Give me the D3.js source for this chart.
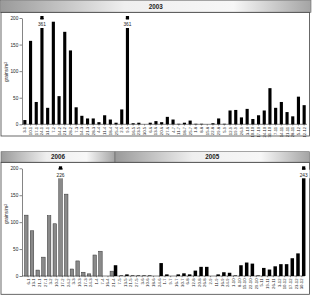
<!DOCTYPE html>
<html>
<head>
<meta charset="utf-8">
<script src="https://cdn.jsdelivr.net/npm/d3@7"></script>
<style>
  body { margin: 0; background: #fff; }
  text { font-family: "Liberation Sans", Arial, sans-serif; fill: #222; }
</style>
</head>
<body>
<div id="chart"></div>
<script>
// 2003 weekly samples
var topLabels = ["3-1","10-1","17-1","24-1","31-1","7-2","14-2","21-2","28-2","7-3","14-3","21-3","28-3",
  "4-4","11-4","18-4","25-4","2-5","9-5","16-5","23-5","30-5","6-6","13-6","20-6","27-6","4-7","11-7",
  "18-7","25-7","1-8","8-8","15-8","22-8","29-8","5-9","12-9","19-9","26-9","3-10","10-10","17-10",
  "24-10","31-10","7-11","14-11","21-11","28-11","5-12","12-12"];
var topValues = [8,157,42,361,31,193,53,174,139,32,16,11,11,4,17,9,3,28,361,2,3,0,3,6,4,14,9,1,3,7,
  1,1,0,2,11,1,26,27,13,29,10,17,26,68,31,42,23,15,52,36];

// 2006 (grey) and 2005 (black) on one axis
var bottomLabels = ["6-1","13-1","21-1","27-1","3-2","10-2","17-2","24-2","3-3","10-3","17-3","24-3",
  "1-4","7-4","16-4","21-4","7-5","13-5","21-5","27-5","3-6","10-6","18-6","24-6","1-7","9-7","16-7",
  "30-7","6-8","12-8","20-8","26-8","2-9","11-9","16-9","24-9","1-10","8-10","15-10","22-10","29-10",
  "5-11","19-11","26-11","3-12","10-12","17-12","23-12","30-12"];
var values2006 = [113,84,11,35,112,97,226,152,13,28,7,4,39,46,0,9];
var values2005 = [20,1,3,1,1,1,1,0,24,3,0,3,5,3,10,17,17,0,3,7,6,1,20,25,23,1,15,12,18,22,22,33,42,243];
var start2005 = 15;   // first category index with a 2005 value

var yTicks = [0,50,100,150,200];
var yMax = 200;

var svg = d3.select("#chart").append("svg")
    .attr("width", 312)
    .attr("height", 296);

var defs = svg.append("defs");
var grad = defs.append("linearGradient").attr("id", "hdr");
grad.append("stop").attr("offset", "0%").attr("stop-color", "#9a9a9a");
grad.append("stop").attr("offset", "40%").attr("stop-color", "#efefef");
grad.append("stop").attr("offset", "75%").attr("stop-color", "#f7f7f7");
grad.append("stop").attr("offset", "100%").attr("stop-color", "#a4a4a4");

function header(x0, x1, y0, y1, label) {
    svg.append("rect")
        .attr("x", x0).attr("y", y0)
        .attr("width", x1 - x0).attr("height", y1 - y0)
        .attr("fill", "url(#hdr)")
        .attr("stroke", "#6a6a6a")
        .attr("stroke-width", 0.6);
    svg.append("text")
        .attr("x", (x0 + x1) / 2)
        .attr("y", (y0 + y1) / 2)
        .attr("dy", "0.36em")
        .attr("text-anchor", "middle")
        .style("font-size", "6.3px")
        .style("font-weight", "bold")
        .text(label);
}

function drawAxes(x, y, titleY) {
    var yAxis = d3.axisLeft(y)
        .tickValues(yTicks)
        .tickSize(2.5)
        .tickSizeOuter(0)
        .tickPadding(1.2);
    var gy = svg.append("g")
        .attr("transform", "translate(22,0)")
        .call(yAxis);
    gy.selectAll("text").style("font-size", "4.7px");
    gy.selectAll("line, path").attr("stroke", "#333").attr("stroke-width", 0.6);

    var xAxis = d3.axisBottom(x)
        .tickSize(1.2)
        .tickSizeOuter(0);
    var gx = svg.append("g")
        .attr("transform", "translate(0," + y(0) + ")")
        .call(xAxis);
    gx.select(".domain").attr("d", "M22,0H" + x.range()[1]);
    gx.selectAll("line, path").attr("stroke", "#333").attr("stroke-width", 0.6);
    gx.selectAll("text")
        .attr("y", 0)
        .attr("x", -2.5)
        .attr("dy", "0.35em")
        .attr("transform", "rotate(-90)")
        .style("text-anchor", "end")
        .style("font-size", "4.2px");

    svg.append("text")
        .attr("transform", "translate(8," + titleY + ") rotate(-90)")
        .attr("text-anchor", "middle")
        .style("font-size", "4.8px")
        .text("grains/m")
        .append("tspan")
        .attr("dy", "-0.4em")
        .style("font-size", "3.2px")
        .text("3");
}

// mark a bar that runs off the top of the scale
function capMark(cx, bw, y, value) {
    var top = y(yMax);
    svg.append("rect")
        .attr("x", cx - 6).attr("y", top + 1.4)
        .attr("width", 12).attr("height", 8.6)
        .attr("fill", "#fff");
    svg.append("text")
        .attr("x", cx).attr("y", top + 8.4)
        .attr("text-anchor", "middle")
        .style("font-size", "4.8px")
        .text(value);
    svg.append("rect")
        .attr("x", cx - 1.6).attr("y", top - 2)
        .attr("width", 3.2).attr("height", 3.2)
        .attr("fill", "#000");
}

// ---------- top panel: 2003 ----------
header(0.5, 311, 0.5, 12.3, "2003");
svg.append("rect")
    .attr("x", 1).attr("y", 12.3)
    .attr("width", 308.5).attr("height", 123.7)
    .attr("fill", "none")
    .attr("stroke", "#444")
    .attr("stroke-width", 0.8);

var xTop = d3.scaleBand()
    .domain(topLabels)
    .range([22, 307])
    .paddingInner(0.45)
    .paddingOuter(0.225);
var yTop = d3.scaleLinear()
    .domain([0, yMax])
    .range([124.3, 18]);

drawAxes(xTop, yTop, 72);

svg.append("g").selectAll("rect")
    .data(topValues)
    .enter()
    .append("rect")
    .attr("x", function(d, i) { return xTop(topLabels[i]); })
    .attr("y", function(d) { return yTop(Math.min(d, yMax)); })
    .attr("width", xTop.bandwidth())
    .attr("height", function(d) { return yTop(0) - yTop(Math.min(d, yMax)); })
    .attr("fill", "#000");

topValues.forEach(function(d, i) {
    if (d > yMax) capMark(xTop(topLabels[i]) + xTop.bandwidth() / 2, xTop.bandwidth(), yTop, d);
});

// ---------- bottom panel: 2006 / 2005 ----------
header(1, 115, 151.7, 162.3, "2006");
header(115, 309.5, 151.7, 162.3, "2005");
svg.append("rect")
    .attr("x", 1).attr("y", 162.3)
    .attr("width", 308.5).attr("height", 132)
    .attr("fill", "none")
    .attr("stroke", "#444")
    .attr("stroke-width", 0.8);

var xBot = d3.scaleBand()
    .domain(bottomLabels)
    .range([25.3, 304.7]);
var step = xBot.step();
var xSub = d3.scaleBand()
    .domain(["2006", "2005"])
    .range([step / 2 - 3.6, step / 2 + 3.6])
    .paddingInner(0.05);
var yBot = d3.scaleLinear()
    .domain([0, yMax])
    .range([276, 168.3]);

drawAxes(xBot, yBot, 214);

var rows = [];
values2006.forEach(function(d, i) {
    rows.push({ label: bottomLabels[i], year: "2006", value: d });
});
values2005.forEach(function(d, i) {
    rows.push({ label: bottomLabels[start2005 + i], year: "2005", value: d });
});

svg.append("g").selectAll("rect")
    .data(rows)
    .enter()
    .append("rect")
    .attr("x", function(d) { return xBot(d.label) + xSub(d.year); })
    .attr("y", function(d) { return yBot(Math.min(d.value, yMax)); })
    .attr("width", xSub.bandwidth())
    .attr("height", function(d) { return yBot(0) - yBot(Math.min(d.value, yMax)); })
    .attr("fill", function(d) { return d.year == "2006" ? "#8a8a8a" : "#000"; })
    .attr("stroke", function(d) { return d.year == "2006" ? "#333" : "none"; })
    .attr("stroke-width", 0.5);

rows.forEach(function(d) {
    if (d.value > yMax) capMark(xBot(d.label) + xSub(d.year) + xSub.bandwidth() / 2, xSub.bandwidth(), yBot, d.value);
});
</script>
</body>
</html>
